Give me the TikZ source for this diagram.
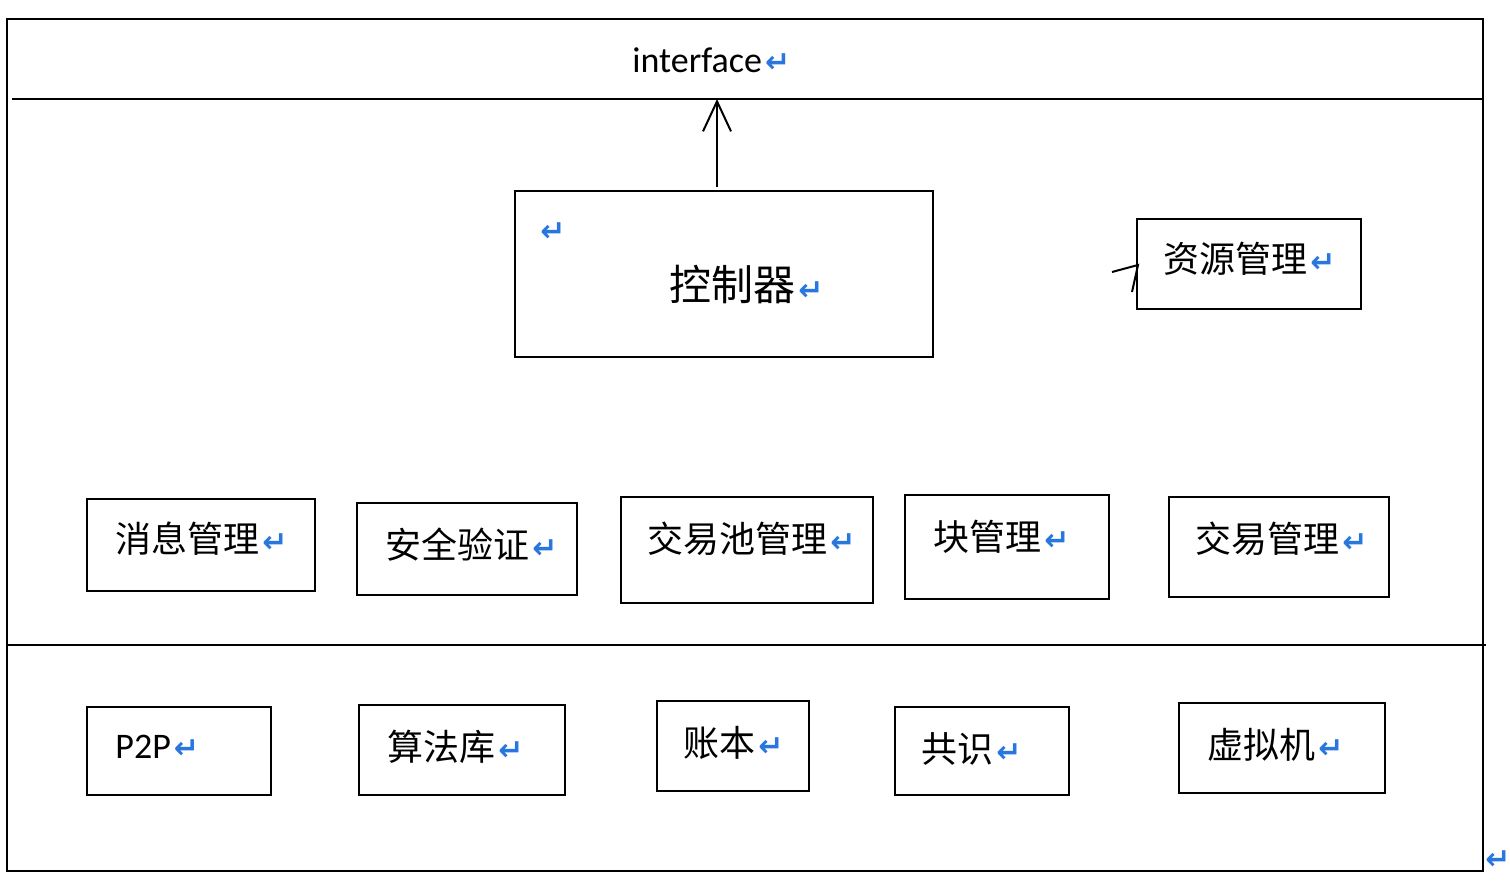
\documentclass[tikz,border=0pt]{standalone}
\usepackage{fontspec}
\setmainfont{Carlito}
\newfontfamily\cjk{Noto Sans CJK SC}
\newfontfamily\symfont{DejaVu Sans}
\usetikzlibrary{fit,arrows.meta}
\definecolor{retblue}{RGB}{40,118,222}
\newcommand{\retglyph}{{\symfont\bfseries\fontsize{15}{15}\selectfont\textcolor{retblue}{↵}}}
\newcommand{\retmark}{\kern1.5pt\retglyph}
\tikzset{
  box/.style={draw, line width=1pt, inner sep=0pt},
  rule/.style={line width=1pt},
  lbl/.style={anchor=west, inner sep=0pt, font=\cjk\fontsize{18}{18}\selectfont},
  lat/.style={anchor=west, inner sep=0pt, font=\fontsize{18}{18}\selectfont},
  arr/.style={line width=1pt, -{Straight Barb[length=15pt, width=14pt, line width=1pt]}}
}
\begin{document}
\begin{tikzpicture}[x=0.5pt, y=-0.5pt]
\useasboundingbox (0,0) rectangle (1510,894);
% outer frame
\node[box, fit={(7,19) (1483,871)}] (frame) {};
\coordinate (tl1) at (12,99);
\coordinate (tl2) at (1483,99);
\draw[rule] (tl1) -- (tl2);
\coordinate (ml1) at (7,645);
\coordinate (ml2) at (1486,645);
\draw[rule] (ml1) -- (ml2);
\node[lat] (ifc) at (632,60) {interface\retmark};
% controller
\node[box, fit={(515,191) (933,357)}] (ctrl) {};
\node[lbl, font=\cjk\fontsize{21}{21}\selectfont] (ctrlt) at (669,285) {控制器\retmark};
\node[anchor=west, inner sep=0pt] (ctrlr) at (540,232) {\retglyph};
\coordinate (astart) at (717,187);
\coordinate (aend) at (717,99);
\draw[arr] (astart) -- (aend);
% resource
\node[box, fit={(1137,219) (1361,309)}] (res) {};
\node[lbl] (rest) at (1163,259) {资源管理\retmark};
\coordinate (rtip) at (1138,265);
\coordinate (ra) at (1112,272);
\coordinate (rb) at (1132,292);
\draw[line width=1pt] (ra) -- (rtip) -- (rb);
% middle row
\node[box, fit={(87,499) (315,591)}] (msg) {};
\node[lbl] (msgt) at (115,539) {消息管理\retmark};
\node[box, fit={(357,503) (577,595)}] (sec) {};
\node[lbl] (sect) at (385,545) {安全验证\retmark};
\node[box, fit={(621,497) (873,603)}] (pool) {};
\node[lbl] (poolt) at (647,539) {交易池管理\retmark};
\node[box, fit={(905,495) (1109,599)}] (blk) {};
\node[lbl] (blkt) at (933,537) {块管理\retmark};
\node[box, fit={(1169,497) (1389,597)}] (tx) {};
\node[lbl] (txt) at (1195,539) {交易管理\retmark};
% bottom row
\node[box, fit={(87,707) (271,795)}] (p2p) {};
\node[lat] (p2pt) at (115,747) {P2P\retmark};
\node[box, fit={(359,705) (565,795)}] (alg) {};
\node[lbl] (algt) at (387,747) {算法库\retmark};
\node[box, fit={(657,701) (809,791)}] (led) {};
\node[lbl] (ledt) at (683,743) {账本\retmark};
\node[box, fit={(895,707) (1069,795)}] (cons) {};
\node[lbl] (const) at (921,749) {共识\retmark};
\node[box, fit={(1179,703) (1385,793)}] (vm) {};
\node[lbl] (vmt) at (1207,745) {虚拟机\retmark};
\node[anchor=west, inner sep=0pt] (endr) at (1485,860) {\retglyph};
\end{tikzpicture}
\end{document}
